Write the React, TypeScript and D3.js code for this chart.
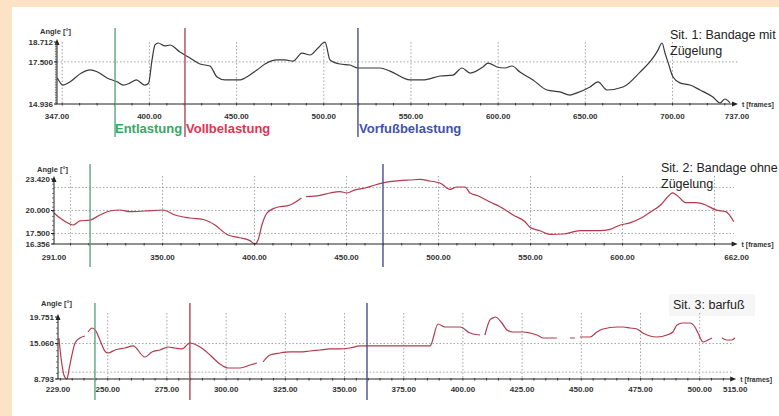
import React from "react";
import * as d3 from "d3";

// ---------- Data ----------
const sit1Frames = [347.2, 350.4, 354.5, 361, 366, 370, 375.7, 381.5, 385, 389, 392.5, 397.3, 399.5, 401.5, 403.2, 405, 409, 411.8, 417.5, 423.3, 429, 434.7, 438.8, 443.4, 452, 454.8, 461.7, 466.3, 473.2, 477.8, 482.4, 487.5, 492.1, 496.7, 500.7, 503.6, 509.3, 515, 519.6, 532.2, 538, 549.5, 556.9, 566.7, 574.1, 579.3, 583.9, 591.3, 594.2, 599.4, 603.9, 608, 612.5, 620, 628, 635.5, 641.2, 645.2, 652.7, 657.3, 662.4, 671.6, 681.4, 688.8, 691.7, 694, 695.7, 697.4, 700.3, 704.3, 710, 715.8, 723.2, 727.3, 730.1, 733];
const sit1Angles = [16.52, 16.09, 16.29, 16.82, 17.01, 16.9, 16.52, 16.29, 16.09, 16.22, 16.4, 16.09, 16.2, 17.62, 18.53, 18.65, 18.47, 18.53, 18.1, 17.74, 17.37, 17.25, 16.58, 16.4, 16.4, 16.52, 17.01, 17.37, 17.62, 17.62, 17.55, 18.04, 17.92, 18.35, 18.71, 17.62, 17.37, 17.31, 17.13, 17.13, 16.94, 16.4, 16.4, 16.64, 16.7, 17.13, 16.82, 17.19, 17.43, 17.19, 17.13, 17.25, 16.88, 16.4, 15.79, 15.67, 15.48, 15.61, 15.97, 16.28, 15.79, 15.97, 16.88, 17.74, 18.22, 18.65, 18.04, 17.49, 16.58, 16.22, 16.09, 15.79, 15.36, 15.0, 15.24, 15.0];

const sit2Frames = [291, 294.3, 297.5, 301.3, 305.1, 310.6, 316, 321.4, 326.9, 332.3, 340.5, 350.2, 356.8, 364.9, 373.1, 378.5, 385.6, 392.1, 397.5, 400.2, 401.9, 404, 406.8, 411.1, 419.3, 425.5, 426.8, 428, 435.6, 441, 446.4, 450.2, 454.6, 460, 465.5, 469.8, 473.6, 479, 484.5, 489.9, 495.3, 500.8, 506.2, 510, 514.4, 517.1, 521.4, 528, 533.4, 540.5, 547, 549.7, 555.1, 560.6, 567.6, 577, 587.7, 593.2, 598.9, 604, 609.8, 615.2, 620.7, 625, 627.2, 630, 634.3, 639.8, 645.2, 650.6, 656.1, 660.5];
const sit2Angles = [19.73, 19.18, 18.75, 18.42, 18.86, 18.96, 19.51, 19.94, 20.05, 19.87, 19.94, 20.05, 19.51, 19.18, 18.96, 18.42, 17.33, 17.04, 16.72, 16.36, 16.79, 18.42, 19.73, 20.27, 20.6, 21.36, null, 21.5, 21.65, 21.9, 22.05, 21.9, 22.24, 22.44, 22.77, 22.99, 23.13, 23.25, 23.31, 23.38, 23.2, 22.99, 22.3, 22.55, 22.55, 21.9, 21.6, 20.92, 20.41, 19.51, 18.78, 18.18, 17.8, 17.41, 17.44, 17.8, 17.8, 17.95, 18.42, 18.65, 19.15, 19.83, 20.6, 21.57, 21.92, 21.57, 20.85, 20.85, 20.6, 20.06, 19.87, 18.78];

const sit3Frames = [229.4, 229.8, 230.7, 231.5, 232.8, 233.6, 234.9, 236.2, 238.3, 240.4, 241, 241.7, 243.4, 245, 246.7, 248.8, 250.1, 253.1, 257.3, 260.7, 265.7, 268.7, 272.1, 275.5, 278.4, 281.4, 284.7, 289, 293.2, 297.4, 300.8, 305.9, 310.1, 313, 314.3, 315.6, 318.5, 322.7, 327, 331.2, 335.4, 339.6, 343.9, 348.1, 352.3, 356.5, 369.2, 386.1, 389.5, 392.4, 398.8, 403, 407.2, 408.2, 409.3, 411.4, 412.7, 413.7, 416.5, 418.6, 421.1, 425.4, 428.3, 431.3, 433.8, 436.8, 439.7, 442.5, 445.2, 447.3, 448.4, 449.4, 453.7, 456.6, 459.2, 465.1, 467.6, 470.6, 473.5, 476, 479, 482, 486.2, 488.7, 490.4, 492.9, 495.9, 498, 499.3, 501.4, 503.5, 505.2, 507.3, 509.4, 511.5, 513.6, 514.9];
const sit3Angles = [16.04, 14.27, 11.27, 9.5, 8.79, 10.38, 13.04, 15.16, 16.04, 16.39, null, 17.1, 17.81, 17.28, 15.69, 13.74, 13.39, 13.92, 14.27, 14.63, 12.68, 13.57, 13.92, 14.45, 14.27, 14.1, 15.16, 14.45, 13.04, 11.44, 10.74, 10.74, 11.27, 11.62, null, 11.8, 13.04, 13.39, 13.57, 13.57, 13.74, 13.92, 14.1, 14.1, 14.27, 14.63, 14.63, 14.63, 18.51, 17.98, 17.98, 16.92, 16.57, null, 16.57, 19.22, 19.6, 19.75, 18.69, 17.45, 17.1, 17.1, 16.92, 16.57, 16.04, 16.04, 16.04, null, 16.04, 16.04, null, 16.22, 16.22, 17.1, 17.63, 17.98, 17.98, 17.81, 17.63, 16.92, 16.39, 16.22, 16.57, 17.1, 18.34, 18.69, 18.69, 17.98, 16.92, 15.33, 15.69, 16.04, null, 16.04, 15.69, 15.69, 16.04];

const sit1XTicks = [347, 400, 450, 500, 550, 600, 650, 700, 737];
const sit1XGrid = [350, 400, 450, 500, 550, 600, 650, 700];
const sit1YTicks = [18.712, 17.5, 14.936];
const sit1YGrid = [17.5];
const sit1Markers = [380.3, 420.4, 519.6];

const sit2XTicks = [291, 350, 400, 450, 500, 550, 600, 662];
const sit2XGrid = [300, 350, 400, 450, 500, 550, 600, 650];
const sit2YTicks = [23.42, 20, 17.5, 16.356];
const sit2YGrid = [22.5, 20, 17.5];
const sit2Markers = [310.6, 469.8];

const sit3XTicks = [229, 250, 275, 300, 325, 350, 375, 400, 425, 450, 475, 500, 515];
const sit3XGrid = [250, 275, 300, 325, 350, 375, 400, 425, 450, 475, 500];
const sit3YTicks = [19.751, 15.06, 8.793];
const sit3YGrid = [15.06, 10];
const sit3Markers = [244.6, 284.7, 359.5];

const phaseLabels = ["Entlastung", "Vollbelastung", "Vorfußbelastung"];
const sit1Title = ["Sit. 1: Bandage mit", "Zügelung"];
const sit2Title = ["Sit. 2: Bandage ohne", "Zügelung"];
const sit3Title = ["Sit. 3: barfuß"];

// ---------- Styles ----------
const FONT = "'Liberation Sans', Arial, sans-serif";
const MARK_LINE = { g: "#5fa383", r: "#a84a5a", b: "#4a4c8e" };
const MARK_TEXT = { g: "#36a862", r: "#de3550", b: "#3f52b0" };
const GRID = "#9a9a9a";

type PanelProps = {
  frames: number[];
  angles: (number | null)[];
  xDomain: [number, number];
  xRange: [number, number];
  yDomain: [number, number];
  yRange: [number, number];
  xTicks: number[];
  xGrid: number[];
  yTicks: number[];
  yGrid: number[];
  minorX: number;
  minorY: number;
  markers: number[];
  markerColors: string[];
  markerSpan: [number, number];
  gridTop: number;
  gridRight: number;
  lineColor: string;
  angleLabelY: number;
  labelDy: number;
};

function Panel(p: PanelProps) {
  const x = d3.scaleLinear().domain(p.xDomain).range(p.xRange);
  const y = d3.scaleLinear().domain(p.yDomain).range(p.yRange);
  const pts = p.frames.map((f, i) => [f, p.angles[i]] as [number, number | null]);
  const line = d3
    .line<[number, number | null]>()
    .defined((d) => d[1] !== null)
    .x((d) => x(d[0]))
    .y((d) => y(d[1] as number))
    .curve(d3.curveMonotoneX);
  const x0 = p.xRange[0];
  const axisY = p.yRange[0];
  const top = p.yRange[1];
  const xEnd = p.xRange[1] - 1;
  const minorXs = d3.range(Math.ceil(p.xDomain[0] / p.minorX) * p.minorX, p.xDomain[1], p.minorX);
  const minorYs = d3.range(p.yDomain[0], p.yDomain[1], p.minorY);
  return (
    <g>
      {p.yGrid.map((v, i) => (
        <line key={"hg" + i} x1={x0} x2={p.gridRight} y1={y(v)} y2={y(v)} stroke={GRID} strokeWidth={0.9} strokeDasharray="1.5,2" />
      ))}
      {p.xGrid.map((v, i) => (
        <line key={"vg" + i} x1={x(v)} x2={x(v)} y1={p.gridTop} y2={axisY} stroke={GRID} strokeWidth={0.9} strokeDasharray="1.5,2" />
      ))}
      <path d={line(pts) || ""} fill="none" stroke={p.lineColor} strokeWidth={1.2} strokeLinejoin="round" />
      <line x1={x0} x2={xEnd - 3} y1={axisY} y2={axisY} stroke="#222" strokeWidth={1} />
      <path d={`M${xEnd + 2},${axisY} L${xEnd - 4},${axisY - 2.5} L${xEnd - 4},${axisY + 2.5} Z`} fill="#222" />
      <line x1={x0} x2={x0} y1={axisY} y2={top + 1} stroke="#222" strokeWidth={1} />
      <path d={`M${x0},${top - 3} L${x0 - 2.5},${top + 3} L${x0 + 2.5},${top + 3} Z`} fill="#222" />
      {minorXs.map((v, i) => (
        <line key={"mx" + i} x1={x(v)} x2={x(v)} y1={axisY - 1} y2={axisY + 1.5} stroke="#333" strokeWidth={1} />
      ))}
      {minorYs.map((v, i) => (
        <line key={"my" + i} x1={x0 - 2} x2={x0} y1={y(v)} y2={y(v)} stroke="#555" strokeWidth={0.8} />
      ))}
      {p.yTicks.map((v, i) => (
        <g key={"yt" + i}>
          <line x1={x0 - 3} x2={x0} y1={y(v)} y2={y(v)} stroke="#222" />
          <text x={x0 - 4} y={y(v)} dy="0.35em" textAnchor="end" fontFamily={FONT} fontWeight="bold" fontSize={8} fill="#333">
            {v.toFixed(3)}
          </text>
        </g>
      ))}
      {p.xTicks.map((v, i) => (
        <text key={"xt" + i} x={x(v)} y={axisY + p.labelDy} textAnchor="middle" fontFamily={FONT} fontWeight="bold" fontSize={8} fill="#333">
          {v.toFixed(2)}
        </text>
      ))}
      <text x={x0 - 17} y={p.angleLabelY} fontFamily={FONT} fontWeight="bold" fontSize={7.5} fill="#333">
        Angle [°]
      </text>
      <text x={xEnd + 6} y={axisY + 3} fontFamily={FONT} fontWeight="bold" fontSize={7} fill="#333">
        t [frames]
      </text>
      {p.markers.map((m, i) => (
        <line key={"mk" + i} x1={x(m)} x2={x(m)} y1={p.markerSpan[0]} y2={p.markerSpan[1]} stroke={p.markerColors[i]} strokeWidth={1.4} />
      ))}
    </g>
  );
}

export default function App() {
  return (
    <svg width={779} height={416} style={{ position: "absolute", left: 0, top: 0 }}>
      <rect x={0} y={0} width={779} height={416} fill="#fce3c6" />
      <rect x={12} y={7} width={767} height={409} fill="#ffffff" />

      <Panel
        frames={sit1Frames}
        angles={sit1Angles}
        xDomain={[347, 737]}
        xRange={[57, 737]}
        yDomain={[14.936, 18.712]}
        yRange={[104, 42]}
        xTicks={sit1XTicks}
        xGrid={sit1XGrid}
        yTicks={sit1YTicks}
        yGrid={sit1YGrid}
        minorX={10}
        minorY={0.1}
        markers={sit1Markers}
        markerColors={[MARK_LINE.g, MARK_LINE.r, MARK_LINE.b]}
        markerSpan={[28, 137]}
        gridTop={42}
        gridRight={738}
        lineColor="#3a3a3a"
        angleLabelY={34}
        labelDy={15}
      />
      <text x={115} y={133} fontFamily={FONT} fontWeight="bold" fontSize={13} fill={MARK_TEXT.g}>{phaseLabels[0]}</text>
      <text x={186} y={133} fontFamily={FONT} fontWeight="bold" fontSize={13} fill={MARK_TEXT.r}>{phaseLabels[1]}</text>
      <text x={359} y={133} fontFamily={FONT} fontWeight="bold" fontSize={13} fill={MARK_TEXT.b}>{phaseLabels[2]}</text>
      {sit1Title.map((t, i) => (
        <text key={"t1" + i} x={670} y={39 + i * 16} fontFamily={FONT} fontSize={12.5} fill="#222">{t}</text>
      ))}

      <Panel
        frames={sit2Frames}
        angles={sit2Angles}
        xDomain={[291, 662]}
        xRange={[54, 736.6]}
        yDomain={[16.356, 23.42]}
        yRange={[244, 179]}
        xTicks={sit2XTicks}
        xGrid={sit2XGrid}
        yTicks={sit2YTicks}
        yGrid={sit2YGrid}
        minorX={10}
        minorY={0.5}
        markers={sit2Markers}
        markerColors={[MARK_LINE.g, MARK_LINE.b]}
        markerSpan={[164, 267]}
        gridTop={176}
        gridRight={734}
        lineColor="#b23a4c"
        angleLabelY={172}
        labelDy={16}
      />
      {sit2Title.map((t, i) => (
        <text key={"t2" + i} x={661} y={172 + i * 16} fontFamily={FONT} fontSize={12.5} fill="#222">{t}</text>
      ))}

      <rect x={669} y={294} width={86} height={22} fill="#f6f6f6" />
      <Panel
        frames={sit3Frames}
        angles={sit3Angles}
        xDomain={[229, 515]}
        xRange={[58, 735.2]}
        yDomain={[8.793, 19.751]}
        yRange={[379, 317]}
        xTicks={sit3XTicks}
        xGrid={sit3XGrid}
        yTicks={sit3YTicks}
        yGrid={sit3YGrid}
        minorX={5}
        minorY={1}
        markers={sit3Markers}
        markerColors={[MARK_LINE.g, MARK_LINE.r, MARK_LINE.b]}
        markerSpan={[303, 400]}
        gridTop={313}
        gridRight={734}
        lineColor="#b23a4c"
        angleLabelY={306}
        labelDy={13}
      />
      {sit3Title.map((t, i) => (
        <text key={"t3" + i} x={673} y={309 + i * 16} fontFamily={FONT} fontSize={12.5} fill="#222">{t}</text>
      ))}
    </svg>
  );
}
